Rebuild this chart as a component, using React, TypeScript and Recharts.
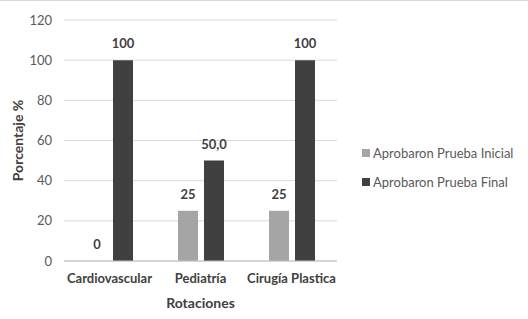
import React from "react";
import {
  BarChart,
  Bar,
  XAxis,
  YAxis,
  CartesianGrid,
  Legend,
  LabelList,
} from "recharts";

const categories = ["Cardiovascular", "Pediatría", "Cirugía Plastica"];
const inicialValues = [0, 25, 25];
const finalValues = [100, 50, 100];
const inicialLabels = ["0", "25", "25"];
const finalLabels = ["100", "50,0", "100"];
const yTicks = [0, 20, 40, 60, 80, 100, 120];

const SERIES = [
  { key: "inicial", name: "Aprobaron Prueba Inicial", color: "#a5a5a5" },
  { key: "final", name: "Aprobaron Prueba Final", color: "#404040" },
];

const FONT = "Lato, 'Open Sans', sans-serif";
const labelStyle = { fill: "#404040", fontSize: 13, fontWeight: 700, fontFamily: FONT };

const data = categories.map((name, i) => ({
  name,
  inicial: inicialValues[i],
  final: finalValues[i],
  inicialLabel: inicialLabels[i],
  finalLabel: finalLabels[i],
}));

function LegendBox() {
  return (
    <div style={{ fontFamily: FONT, fontSize: 13, color: "#595959" }}>
      {SERIES.map((s) => (
        <div
          key={s.key}
          style={{ display: "flex", alignItems: "center", height: 29 }}
        >
          <span
            style={{
              display: "inline-block",
              width: 8,
              height: 8,
              background: s.color,
              marginRight: 3,
            }}
          />
          <span>{s.name}</span>
        </div>
      ))}
    </div>
  );
}

export default function App() {
  return (
    <div
      style={{
        position: "absolute",
        left: 0,
        top: 0,
        width: 528,
        height: 319,
        background: "#fff",
      }}
    >
      <div
        style={{
          position: "absolute",
          left: 0,
          top: 0,
          width: 528,
          height: 1,
          background: "#d9d9d9",
        }}
      />
      <BarChart
        width={528}
        height={319}
        data={data}
        margin={{ top: 20, right: 191, bottom: 8, left: 0 }}
        barSize={20}
        barGap={6}
      >
        <CartesianGrid vertical={false} stroke="#d9d9d9" />
        <XAxis
          dataKey="name"
          height={50}
          axisLine={{ stroke: "#bfbfbf" }}
          tickLine={false}
          tickSize={5}
          tickMargin={8}
          tick={{ fill: "#404040", fontSize: 13, fontWeight: 700, fontFamily: FONT }}
          label={{
            value: "Rotaciones",
            position: "insideBottom",
            offset: 3,
            style: { fill: "#404040", fontSize: 14, fontWeight: 700, fontFamily: FONT },
          }}
        />
        <YAxis
          width={64}
          domain={[0, 120]}
          ticks={yTicks}
          axisLine={false}
          tickLine={false}
          tickSize={0}
          tickMargin={12}
          tick={{ fill: "#595959", fontSize: 13, fontFamily: FONT }}
          label={{
            value: "Porcentaje %",
            angle: -90,
            position: "insideLeft",
            offset: 18,
            style: {
              textAnchor: "middle",
              fill: "#404040",
              fontSize: 14,
              fontWeight: 700,
              fontFamily: FONT,
            },
          }}
        />
        <Legend
          layout="vertical"
          align="center"
          verticalAlign="middle"
          wrapperStyle={{ left: 362, top: 138, width: 166 }}
          content={() => <LegendBox />}
        />
        <Bar
          dataKey="inicial"
          name={SERIES[0].name}
          fill={SERIES[0].color}
          minPointSize={0.01}
          isAnimationActive={false}
        >
          <LabelList dataKey="inicialLabel" position="top" offset={12} style={labelStyle} />
        </Bar>
        <Bar
          dataKey="final"
          name={SERIES[1].name}
          fill={SERIES[1].color}
          isAnimationActive={false}
        >
          <LabelList dataKey="finalLabel" position="top" offset={12} style={labelStyle} />
        </Bar>
      </BarChart>
    </div>
  );
}
